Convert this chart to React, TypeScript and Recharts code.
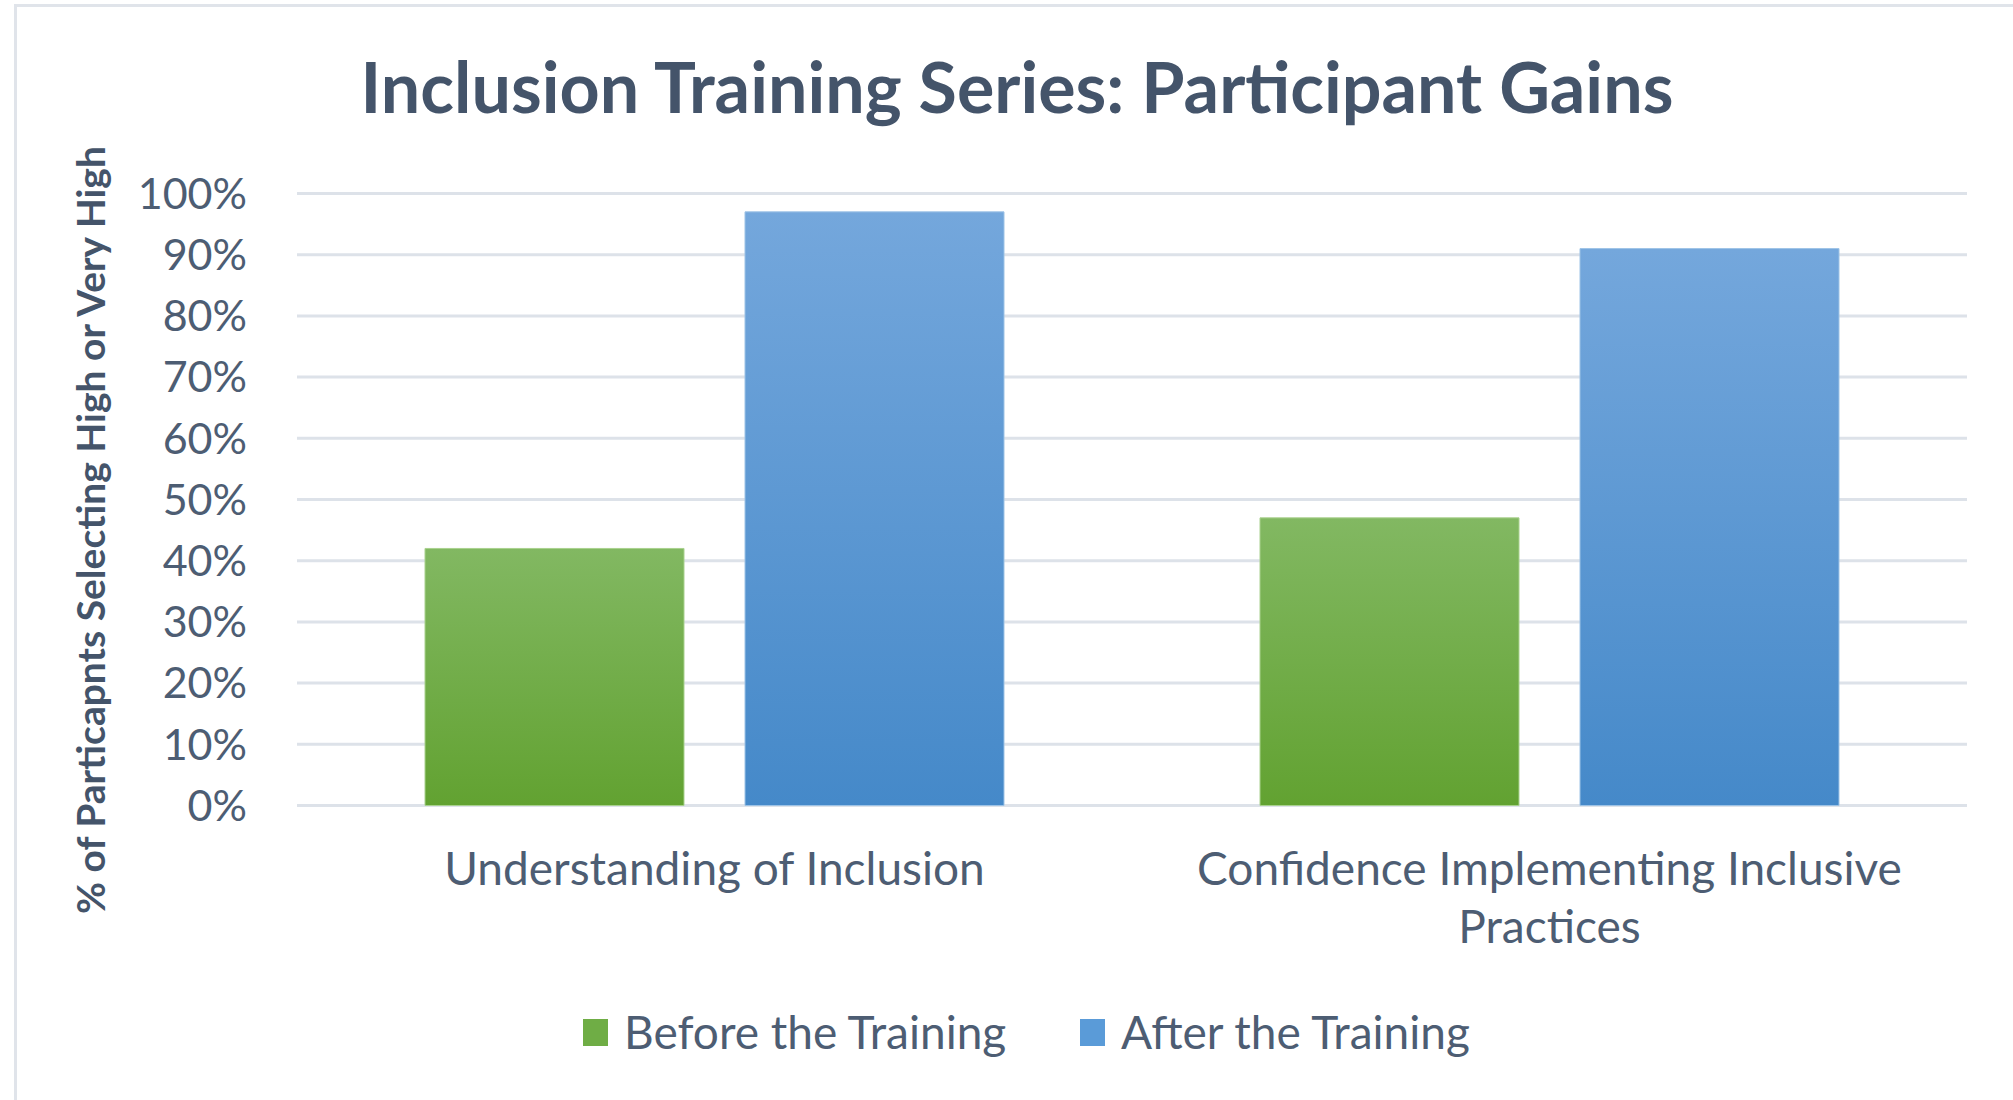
import React from "react";
import { BarChart, Bar, XAxis, YAxis, CartesianGrid, Legend } from "recharts";

const categories = ["Understanding of Inclusion", "Confidence Implementing Inclusive Practices"];
const beforeValues = [42, 47];
const afterValues = [97, 91];
const yTicks = [0, 10, 20, 30, 40, 50, 60, 70, 80, 90, 100];
const seriesNames = ["Before the Training", "After the Training"];
const titleText = "Inclusion Training Series: Participant Gains";
const yAxisTitle = "% of Particapnts Selecting High or Very High";

const data = categories.map((c, i) => ({ name: c, before: beforeValues[i], after: afterValues[i] }));

const TEXT = "#44546A";
const TICK = "#4d5d73";
const FONT = "Lato, 'Open Sans', sans-serif";

let measureCtx: CanvasRenderingContext2D | null = null;
function wrapWords(text: string, fontSize: number, maxWidth: number): string[] {
  if (!measureCtx) {
    const c = document.createElement("canvas");
    measureCtx = c.getContext("2d");
  }
  const ctx = measureCtx!;
  ctx.font = `${fontSize}px Lato, 'Open Sans', sans-serif`;
  const words = text.split(" ");
  const lines: string[] = [];
  let cur = "";
  for (const w of words) {
    const test = cur ? cur + " " + w : w;
    if (cur && ctx.measureText(test).width > maxWidth) {
      lines.push(cur);
      cur = w;
    } else {
      cur = test;
    }
  }
  if (cur) lines.push(cur);
  return lines;
}

const XTick = (props: any) => {
  const { x, y, payload } = props;
  const lines = wrapWords(String(payload.value), 46, 760);
  return (
    <text x={x} y={y} textAnchor="middle" fontSize={46} fontFamily={FONT} fill={TICK}>
      {lines.map((l, i) => (
        <tspan key={i} x={x} dy={i === 0 ? 32 : 58}>
          {l}
        </tspan>
      ))}
    </text>
  );
};

const YLabel = () => {
  return (
    <text
      x={105}
      y={530}
      transform="rotate(-90, 105, 530)"
      textAnchor="middle"
      fontSize={39}
      fontWeight={700}
      fontFamily={FONT}
      fill={TEXT}
    >
      {yAxisTitle}
    </text>
  );
};

const LegendContent = () => {
  const colors = ["#6fad45", "#5a9bd8"];
  return (
    <div style={{ position: "relative", width: 2013, height: 60 }}>
      {seriesNames.map((n, i) => (
        <div
          key={n}
          style={{
            position: "absolute",
            left: i === 0 ? 583 : 1080,
            top: 0,
            display: "flex",
            alignItems: "center",
            height: 60,
            whiteSpace: "nowrap",
          }}
        >
          <div style={{ width: 25, height: 27, background: colors[i], marginRight: 16 }} />
          <span style={{ fontFamily: FONT, fontSize: 46, color: TICK, lineHeight: "60px" }}>{n}</span>
        </div>
      ))}
    </div>
  );
};

export default function App() {
  return (
    <div style={{ position: "absolute", left: 0, top: 0, width: 2013, height: 1100, background: "#fff", overflow: "hidden" }}>
      <div
        style={{
          position: "absolute",
          left: 14,
          top: 4,
          right: -10,
          bottom: -10,
          borderTop: "3px solid #e0e4ea",
          borderLeft: "3px solid #e0e4ea",
        }}
      />
      <div
        style={{
          position: "absolute",
          left: 0,
          width: 2013,
          top: 46,
          textAlign: "center",
          paddingLeft: 21,
          boxSizing: "border-box",
          fontFamily: FONT,
          fontWeight: 700,
          fontSize: 70,
          color: TEXT,
          lineHeight: "80px",
          whiteSpace: "nowrap",
        }}
      >
        {titleText}
      </div>
      <div style={{ position: "absolute", left: 0, top: 0 }}>
        <BarChart
          width={2013}
          height={1100}
          data={data}
          margin={{ top: 193.5, right: 46, bottom: 204.5, left: 0 }}
          barSize={259}
          barGap={61}
        >
          <defs>
            <linearGradient id="gGreen" x1="0" y1="0" x2="0" y2="1">
              <stop offset="0%" stopColor="#82b862" />
              <stop offset="100%" stopColor="#62a231" />
            </linearGradient>
            <linearGradient id="gBlue" x1="0" y1="0" x2="0" y2="1">
              <stop offset="0%" stopColor="#74a7dc" />
              <stop offset="100%" stopColor="#4589c9" />
            </linearGradient>
          </defs>
          <CartesianGrid vertical={false} stroke="#dde2e9" strokeWidth={3} />
          <XAxis
            dataKey="name"
            height={30}
            axisLine={false}
            tickLine={false}
            tickSize={0}
            tickMargin={47}
            tick={<XTick />}
            interval={0}
          />
          <YAxis
            domain={[0, 100]}
            ticks={yTicks}
            interval={0}
            width={297}
            axisLine={false}
            tickLine={false}
            tickSize={0}
            tickMargin={50}
            tickFormatter={(v: number) => `${v}%`}
            tick={{ fontSize: 43, fontFamily: FONT, fill: TICK }}
            label={<YLabel />}
          />
          <Legend
            verticalAlign="bottom"
            height={60}
            content={<LegendContent />}
            wrapperStyle={{ position: "absolute", left: 0, top: 1002, width: 2013 }}
          />
          <Bar dataKey="before" name={seriesNames[0]} fill="url(#gGreen)" stroke="#a9d18e" strokeWidth={1} isAnimationActive={false} />
          <Bar dataKey="after" name={seriesNames[1]} fill="url(#gBlue)" stroke="#9dc3e6" strokeWidth={1} isAnimationActive={false} />
        </BarChart>
      </div>
    </div>
  );
}
